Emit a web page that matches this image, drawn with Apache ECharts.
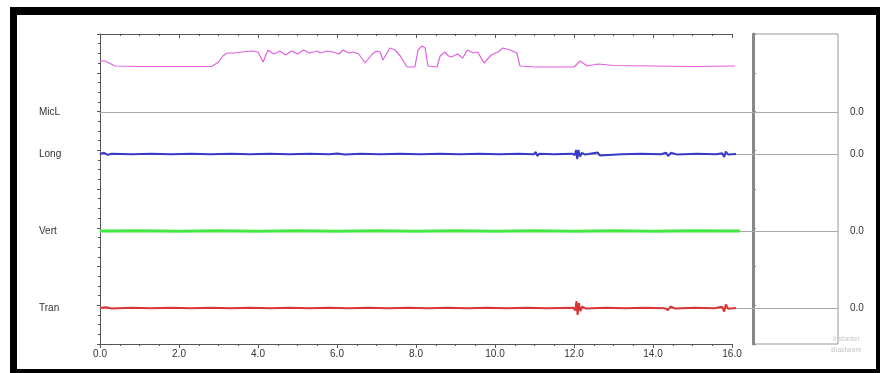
<!DOCTYPE html>
<html>
<head>
<meta charset="utf-8">
<script src="https://cdn.jsdelivr.net/npm/echarts@6/dist/echarts.min.js"></script>
<style>
  html, body { margin: 0; padding: 0; background: #fff; }
  #frame {
    position: absolute; left: 10px; top: 7px; width: 872px; height: 368px;
    box-sizing: border-box; border-style: solid; border-color: #000;
    border-width: 8px 6px 6px 7px;
  }
  #chart { position: absolute; left: 0; top: 0; width: 880px; height: 373px; }
</style>
</head>
<body>
<div id="frame"></div>
<div id="chart"></div>
<script>
// time axis (seconds) tick labels
const timeTicks = [0, 2, 4, 6, 8, 10, 12, 14, 16];

// channel names, top to bottom
const channels = ['MicL', 'Long', 'Vert', 'Tran'];

// MicL trace: [time, height above MicL baseline]
const micData = [
  [0.00, 51], [0.13, 51], [0.38, 46], [1.0, 45.5], [2.0, 45.5], [2.83, 45.5],
  [3.0, 50], [3.11, 56], [3.22, 59], [3.42, 59], [3.6, 60], [3.85, 61], [4.0, 60],
  [4.13, 50], [4.25, 62], [4.4, 58], [4.55, 61], [4.7, 57], [4.85, 61], [5.0, 58],
  [5.15, 62], [5.3, 59], [5.5, 61], [5.57, 59], [5.75, 61], [5.9, 60], [6.05, 58],
  [6.15, 62], [6.3, 59], [6.4, 60], [6.55, 58], [6.71, 49], [6.89, 58], [7.0, 61],
  [7.09, 60], [7.16, 52], [7.34, 64], [7.47, 62], [7.6, 56], [7.77, 45], [7.97, 45],
  [8.05, 62], [8.15, 66], [8.23, 64], [8.3, 46], [8.53, 45], [8.61, 56], [8.73, 60],
  [8.82, 56], [8.9, 55], [9.05, 58], [9.18, 54], [9.3, 62], [9.45, 59], [9.56, 60],
  [9.72, 49], [9.9, 57], [10.07, 60], [10.2, 64], [10.38, 62], [10.55, 59],
  [10.63, 46], [11.0, 45], [12.0, 45], [12.03, 45], [12.15, 51], [12.33, 46],
  [12.61, 48], [13.0, 46.5], [14.0, 46], [15.0, 45.5], [16.08, 46]
];

// Long trace
const longData = [
  [0, 0], [0.1, 1.2], [0.2, -0.8], [0.3, 0.3], [0.8, -0.3], [1.3, 0.3], [1.8, -0.3],
  [2.3, 0.3], [2.8, -0.3], [3.3, 0.3], [3.8, -0.3], [4.3, 0.3], [4.8, -0.3],
  [5.3, 0.3], [5.8, -0.3], [6.0, 0.6], [6.2, -0.5], [6.6, 0.3], [7.1, -0.3],
  [7.6, 0.3], [8.1, -0.3], [8.6, 0.3], [9.1, -0.3], [9.6, 0.3], [10.1, -0.3],
  [10.6, 0.3], [10.98, -0.3], [11.03, 2], [11.07, -2], [11.12, 0.3], [11.5, -0.3],
  [11.95, 0.3], [12.02, -1], [12.05, 4], [12.08, -5], [12.11, 4], [12.15, -2.5],
  [12.2, 1.2], [12.28, -0.6], [12.6, 1.5], [12.65, -1.5], [12.7, 0.3], [13.2, -0.3],
  [13.7, 0.3], [14.2, -0.3], [14.33, 1.2], [14.38, -2], [14.45, 1.2], [14.6, -0.4],
  [15.1, 0.3], [15.6, -0.3], [15.75, 0.8], [15.8, -3], [15.84, 2.5], [15.9, -0.5],
  [16.1, 0]
];

// Vert trace
const vertData = [
  [0, 0], [1.0, 0.2], [2.0, -0.2], [3.0, 0.2], [4.0, -0.2], [5.0, 0.2], [6.0, -0.2],
  [7.0, 0.2], [8.0, -0.2], [9.0, 0.2], [10.0, -0.2], [11.0, 0.2], [12.0, -0.2],
  [13.0, 0.2], [14.0, -0.2], [15.0, 0.2], [16.2, 0]
];

// Tran trace
const tranData = [
  [0, 0], [0.15, 0.8], [0.3, -0.4], [0.8, 0.3], [1.3, -0.3], [1.8, 0.3], [2.3, -0.3],
  [2.8, 0.3], [3.3, -0.3], [3.8, 0.3], [4.3, -0.3], [4.8, 0.3], [5.3, -0.3],
  [5.8, 0.3], [6.3, -0.3], [6.8, 0.3], [7.3, -0.3], [7.8, 0.3], [8.3, -0.3],
  [8.8, 0.3], [9.3, -0.3], [9.8, 0.3], [10.3, -0.3], [10.8, 0.3], [11.3, -0.3],
  [11.98, 0.3], [12.03, -2.5], [12.06, 7], [12.09, -7], [12.12, 5], [12.16, -3],
  [12.21, 1.5], [12.3, -0.6], [12.8, 0.3], [13.3, -0.3], [13.8, 0.3], [14.3, -0.3],
  [14.34, 1.2], [14.38, -2], [14.44, 1.5], [14.55, -0.4], [15.05, 0.3], [15.55, -0.3],
  [15.75, 1.2], [15.8, -3.5], [15.84, 3.5], [15.9, -0.8], [16.1, 0]
];

const chart = echarts.init(document.getElementById('chart'));

const font = 'Liberation Sans, Arial, sans-serif';
const grey = '#999';
const xMaxChannel = 18.68;   // channel rows run out to the right-hand box edge

const channelRows = [
  { name: channels[0], data: micData, color: '#e060e0', width: 1.2, top: 34, bottom: 261, min: 0, max: 78 },
  { name: channels[1], data: longData, color: '#3a3ac8', width: 2, top: 139, bottom: 204, min: -15, max: 15 },
  { name: channels[2], data: vertData, color: '#44e844', width: 3, top: 216, bottom: 127, min: -15, max: 15 },
  { name: channels[3], data: tranData, color: '#d83535', width: 2, top: 293, bottom: 50, min: -15, max: 15 }
];

const grid = [
  { left: 100, right: 148, top: 34, bottom: 29 },                              // main time frame
  { left: 753, right: 42, top: 34, bottom: 29, show: true, borderColor: grey, borderWidth: 1 } // right box
];
const xAxis = [
  {
    gridIndex: 0, type: 'value', min: 0, max: 16, interval: 2,
    axisLine: { lineStyle: { color: '#555' } },
    axisTick: { length: 4, lineStyle: { color: '#555' } },
    minorTick: { show: true, splitNumber: 4, length: 2, lineStyle: { color: '#555' } },
    splitLine: { show: false },
    axisLabel: {
      customValues: timeTicks,
      formatter: v => v.toFixed(1), fontSize: 10, color: '#333', fontFamily: font, margin: 5
    }
  },
  {
    gridIndex: 0, type: 'value', position: 'top', min: 0, max: 16, interval: 2,
    axisLine: { lineStyle: { color: '#555' } },
    axisTick: { inside: true, length: 4, lineStyle: { color: '#555' } },
    minorTick: { show: true, splitNumber: 4, length: 2, lineStyle: { color: '#555' } },
    splitLine: { show: false }, axisLabel: { show: false }
  },
  { gridIndex: 1, type: 'value', min: 0, max: 1, show: false }
];
const yAxis = [
  {
    gridIndex: 0, type: 'value', min: 0, max: 32, interval: 4,
    axisLine: { show: true, lineStyle: { color: '#555' } },
    axisTick: { show: true, length: 3, lineStyle: { color: '#555' } },
    minorTick: { show: true, splitNumber: 4, length: 2, lineStyle: { color: '#555' } },
    splitLine: { show: false }, axisLabel: { show: false }
  },
  {
    gridIndex: 1, type: 'value', min: 0, max: 32, interval: 4,
    axisLine: { show: true, lineStyle: { color: '#888', width: 3 } },
    axisTick: { show: true, inside: true, length: 3, lineStyle: { color: '#888' } },
    minorTick: { show: true, splitNumber: 4, length: 2, lineStyle: { color: '#888' } },
    splitLine: { show: false }, axisLabel: { show: false }
  }
];
const series = [];

channelRows.forEach(row => {
  const g = grid.length;
  grid.push({ left: 100, right: 42, top: row.top, bottom: row.bottom });
  xAxis.push({
    gridIndex: g, type: 'value', min: 0, max: xMaxChannel,
    axisLine: { show: true, onZero: true, lineStyle: { color: '#aaa' } },
    axisTick: { show: false }, axisLabel: { show: false }, splitLine: { show: false }
  });
  const yBase = {
    gridIndex: g, type: 'value', min: row.min, max: row.max,
    interval: row.min < 0 ? row.max : row.max - row.min,
    axisLine: { show: false }, axisTick: { show: false }, splitLine: { show: false }
  };
  yAxis.push(Object.assign({}, yBase, {
    position: 'left',
    axisLabel: { formatter: v => (v === 0 ? row.name : ''), align: 'left', margin: 61,
      fontSize: 10, color: '#333', fontFamily: font }
  }));
  yAxis.push(Object.assign({}, yBase, {
    position: 'right',
    axisLabel: { formatter: v => (v === 0 ? '0.0' : ''), margin: 12,
      fontSize: 10, color: '#333', fontFamily: font }
  }));
  series.push({
    type: 'line', name: row.name, data: row.data,
    xAxisIndex: xAxis.length - 1, yAxisIndex: yAxis.length - 2,
    showSymbol: false, smooth: false, silent: true,
    lineStyle: { color: row.color, width: row.width }
  });
});

chart.setOption({
  animation: false,
  backgroundColor: 'transparent',
  grid, xAxis, yAxis, series,
  graphic: [
    { type: 'text', left: 833, top: 336, silent: true,
      style: { text: 'Instantel', fontSize: 7, fill: '#c8c8c8', fontFamily: font } },
    { type: 'text', left: 831, top: 347, silent: true,
      style: { text: 'Blastware', fontSize: 7, fill: '#c8c8c8', fontFamily: font } }
  ]
});
</script>
</body>
</html>
